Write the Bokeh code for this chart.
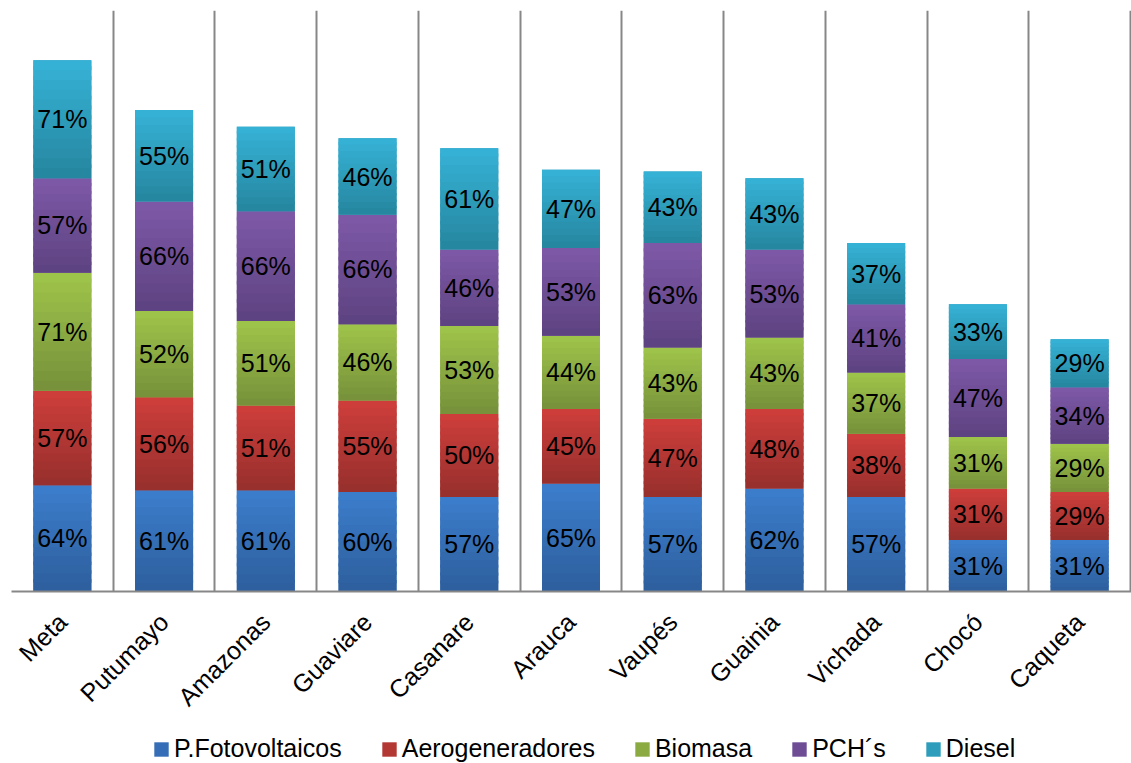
import math
from bokeh.plotting import figure
from bokeh.layouts import column
from bokeh.models import Range1d, FixedTicker, Legend, LegendItem, ColumnDataSource
from bokeh.core.properties import value
from bokeh.embed import file_html
from bokeh.resources import INLINE

categories = ["Meta", "Putumayo", "Amazonas", "Guaviare", "Casanare", "Arauca",
              "Vaupés", "Guainia", "Vichada", "Chocó", "Caqueta"]
fotovoltaicos = [64, 61, 61, 60, 57, 65, 57, 62, 57, 31, 31]
aerogeneradores = [57, 56, 51, 55, 50, 45, 47, 48, 38, 31, 29]
biomasa = [71, 52, 51, 46, 53, 44, 43, 43, 37, 31, 29]
pchs = [57, 66, 66, 66, 46, 53, 63, 53, 41, 47, 34]
diesel = [71, 55, 51, 46, 61, 47, 43, 43, 37, 33, 29]

series_names = ["P.Fotovoltaicos", "Aerogeneradores", "Biomasa", "PCH´s", "Diesel"]
series_values = [fotovoltaicos, aerogeneradores, biomasa, pchs, diesel]
top_colors = ["#3C7ECD", "#CF3E3B", "#A0C54B", "#7E59A8", "#36B3D7"]
bottom_colors = ["#2D5E9C", "#962F2C", "#75903A", "#5D4280", "#25859E"]
mid_colors = ["#356EB6", "#B33733", "#8BAA42", "#6E4D95", "#2D9DBB"]

FONT = "Liberation Sans"


def hex2rgb(h):
    h = h.lstrip("#")
    return tuple(int(h[i:i + 2], 16) for i in (0, 2, 4))


def mix(c1, c2, t):
    a, b = hex2rgb(c1), hex2rgb(c2)
    return "#%02x%02x%02x" % tuple(int(round(a[i] + (b[i] - a[i]) * t)) for i in range(3))


p = figure(width=1131, height=724, x_range=Range1d(-0.5, 10.51), y_range=Range1d(0, 350),
           output_backend="svg", toolbar_location=None,
           min_border_left=11, min_border_right=0, min_border_top=10, min_border_bottom=133)
p.outline_line_color = None
p.background_fill_color = "white"
p.border_fill_color = "white"
p.yaxis.visible = False
p.ygrid.grid_line_color = None
p.xgrid.ticker = FixedTicker(ticks=[i - 0.5 for i in range(12)])
p.xgrid.grid_line_color = "#878787"
p.xgrid.grid_line_width = 2

p.xaxis.ticker = FixedTicker(ticks=list(range(len(categories))))
p.xaxis.major_label_overrides = {i: c for i, c in enumerate(categories)}
p.xaxis.major_label_orientation = math.pi / 4
p.xaxis.major_label_text_font = FONT
p.xaxis.major_label_text_font_size = "25px"
p.xaxis.major_label_text_color = "black"
p.xaxis.major_label_standoff = 20
p.xaxis.major_tick_line_color = None
p.xaxis.minor_tick_line_color = None
p.xaxis.axis_line_color = "#878787"
p.xaxis.axis_line_width = 2

bar_w = 0.57
n_strips = 12
base = [0] * len(categories)
lx, ly, lt = [], [], []
for s, (name, vals) in enumerate(zip(series_names, series_values)):
    bottoms = list(base)
    tops = [b + v for b, v in zip(base, vals)]
    xs = list(range(len(categories)))
    src = ColumnDataSource(dict(left=[x - bar_w / 2 for x in xs], right=[x + bar_w / 2 for x in xs],
                                bottom=bottoms, top=tops))
    p.quad(left="left", right="right", bottom="bottom", top="top", source=src,
           fill_color=mid_colors[s], line_color=None)
    # gradient strips
    L, R, B, T, C = [], [], [], [], []
    for i, (b, t) in enumerate(zip(bottoms, tops)):
        h = (t - b) / n_strips
        for k in range(n_strips):
            L.append(i - bar_w / 2)
            R.append(i + bar_w / 2)
            B.append(b + k * h)
            T.append(min(t, b + (k + 1.4) * h))
            C.append(mix(bottom_colors[s], top_colors[s], (k + 0.5) / n_strips))
    p.quad(left=L, right=R, bottom=B, top=T, fill_color=C, line_color=None)
    for i, (b, t, v) in enumerate(zip(bottoms, tops, vals)):
        lx.append(i)
        ly.append((b + t) / 2)
        lt.append(f"{v}%")
    base = tops

p.text(x=lx, y=ly, text=lt, text_align="center", text_baseline="middle",
       text_font=value(FONT), text_font_size="25px", text_color="black")

# legend figure
pl = figure(width=1131, height=39, x_range=Range1d(0, 1), y_range=Range1d(0, 1),
            output_backend="svg", toolbar_location=None,
            min_border_left=0, min_border_right=0, min_border_top=0, min_border_bottom=0)
pl.axis.visible = False
pl.grid.grid_line_color = None
pl.outline_line_color = None
legend_items = []
for s, name in enumerate(series_names):
    r = pl.quad(left=[5], right=[6], bottom=[5], top=[6], fill_color=mid_colors[s], line_color=None)
    legend_items.append(LegendItem(label=name, renderers=[r]))
legend = Legend(items=legend_items, orientation="horizontal", location=(141, 0),
                border_line_color=None, background_fill_alpha=0,
                label_text_font=FONT, label_text_font_size="25px", label_text_color="black",
                glyph_width=18, glyph_height=18, spacing=38, label_standoff=4,
                padding=0, margin=0)
pl.add_layout(legend, "center")

layout = column(p, pl, spacing=0)

with open("out.html", "w") as f:
    f.write(file_html(layout, INLINE))
